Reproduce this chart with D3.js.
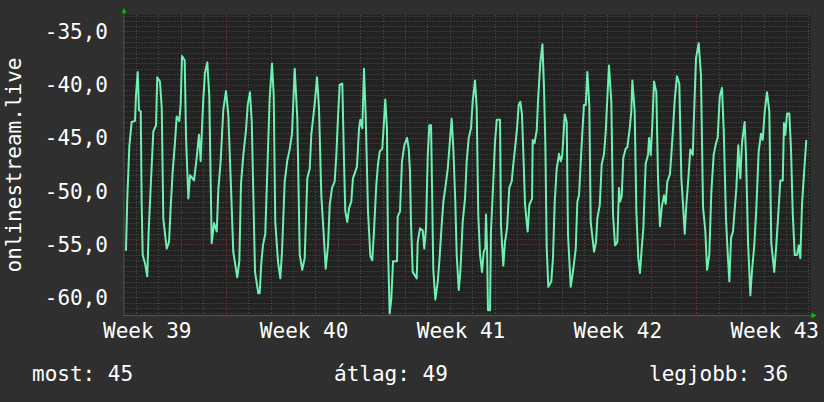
<!DOCTYPE html>
<html><head><meta charset="utf-8">
<script src="https://cdn.jsdelivr.net/npm/d3@7"></script>
<style>html,body{margin:0;padding:0;background:#2f2f2f;}svg{display:block;}</style>
</head><body>
<svg id="c" width="824" height="402"></svg>
<script>
// ---- data (hours since 2023-09-27 00:00, value) ----
const hours = [13.2,14.6,16.8,19.3,22.9,23.9,25.8,27.1,29.0,30.0,31.1,33.6,36.0,37.5,40.0,42.5,45.4,46.7,49.6,51.5,53.2,56.8,59.3,61.1,63.2,65.7,67.5,70.3,71.8,73.2,76.1,77.5,80.0,81.8,86.1,88.9,91.4,93.2,94.6,96.0,97.8,100.3,102.4,105.0,107.5,110.4,112.1,114.6,117.4,120.3,122.8,125.7,128.1,132.4,134.6,136.4,138.9,141.7,143.6,146.0,147.9,151.4,154.9,156.4,158.1,159.9,162.4,164.6,167.1,169.6,171.4,173.1,176.0,178.5,180.3,183.2,186.0,188.5,191.0,193.9,196.7,199.3,202.0,204.6,207.4,210.0,211.7,215.3,217.8,219.9,222.4,225.0,227.1,229.6,231.4,233.9,236.7,238.5,240.3,242.1,244.9,246.7,248.1,250.2,252.1,254.5,256.3,260.6,262.8,264.2,266.3,268.1,269.9,272.4,274.9,277.0,278.8,281.3,283.1,284.9,287.7,289.5,290.9,292.7,293.8,295.6,297.4,299.2,303.5,304.2,306.7,308.8,311.3,314.2,316.0,317.4,318.5,320.3,324.6,325.6,328.1,331.0,332.7,334.5,336.4,338.1,339.9,340.9,342.3,344.5,347.1,348.8,351.3,353.1,355.2,357.8,359.5,362.0,363.8,365.9,367.4,369.6,371.3,373.8,376.3,378.1,380.3,382.7,384.5,387.0,388.8,390.5,392.4,394.5,396.3,398.0,398.8,399.9,400.9,403.1,404.1,406.6,408.4,410.3,413.8,414.8,417.3,419.1,421.3,423.7,426.3,428.0,430.2,432.0,433.8,435.5,437.3,439.2,440.6,443.4,445.2,448.1,448.8,450.7,453.1,454.5,456.8,459.2,460.9,462.3,463.8,465.5,468.7,470.5,472.4,474.5,477.0,478.8,480.5,483.1,485.2,486.6,489.5,492.3,494.9,496.6,498.4,501.3,503.7,505.6,507.3,509.4,510.9,514.5,516.6,518.0,520.6,522.7,525.2,527.0,528.7,530.5,533.0,534.8,537.0,539.4,541.2,542.3,544.1,545.8,548.4,550.1,552.7,554.4,555.5,558.0,559.8,561.9,563.7,565.5,567.3,569.8,572.3,573.4,575.2,576.9,578.7,581.2,583.0,585.1,587.0,589.4,591.2,593.0,595.8,597.7,599.1,600.9,603.3,605.8,608.0,609.8,611.6,613.3,615.1,617.6,620.2,621.2,623.7,626.6,629.0,631.2,633.7,635.5,637.9,640.1,642.6,645.1,646.9,649.1,651.5,653.4,655.8,657.6,659.4,661.2,663.3,664.7,666.9,669.0,671.1,673.0,675.8,677.2,679.4,681.9,683.7,686.1,688.3,690.8,693.3,695.1,697.3,699.7,702.2,704.3,707.5,709.4,711.5,714.0,716.6,717.9,719.3,721.2,723.6,725.4,727.3,729.4,731.9,733.7,735.4,737.2,739.7,741.8];
const values = [-55.6,-50.7,-45.8,-43.5,-43.4,-41.0,-38.8,-42.4,-42.5,-51.1,-56.0,-56.8,-58.0,-53.8,-49.0,-44.4,-43.8,-39.3,-39.7,-42.2,-52.6,-55.4,-54.8,-51.5,-48.2,-45.4,-43.0,-43.4,-41.8,-37.3,-37.7,-44.9,-50.7,-48.5,-49.0,-46.9,-44.7,-47.2,-44.1,-41.4,-38.9,-37.9,-41.0,-54.9,-53.0,-53.8,-49.9,-47.2,-42.4,-40.6,-42.8,-49.7,-55.7,-58.1,-56.6,-49.3,-46.6,-44.3,-41.9,-40.7,-43.5,-57.6,-59.6,-59.6,-56.8,-55.1,-54.0,-48.0,-41.3,-38.0,-41.0,-52.9,-56.6,-58.2,-55.7,-49.1,-47.1,-46.1,-44.6,-38.5,-43.2,-56.0,-57.4,-56.3,-48.8,-47.9,-44.7,-41.8,-39.3,-42.2,-50.4,-54.1,-57.3,-55.1,-51.3,-49.7,-49.1,-46.6,-43.0,-40.0,-39.9,-47.2,-51.9,-52.9,-51.6,-51.0,-48.8,-47.7,-44.1,-43.3,-44.1,-38.5,-42.8,-51.9,-56.1,-56.5,-53.8,-49.4,-47.5,-46.3,-46.0,-43.5,-41.4,-44.1,-55.1,-61.5,-60.1,-56.6,-56.6,-52.4,-51.9,-47.2,-45.7,-45.0,-46.0,-48.2,-53.2,-57.6,-58.2,-54.8,-53.5,-53.7,-55.4,-53.5,-46.6,-43.8,-43.8,-49.1,-57.3,-60.2,-58.5,-56.6,-53.2,-51.0,-49.7,-47.9,-46.0,-43.2,-46.0,-51.0,-56.0,-59.3,-57.6,-52.9,-50.7,-47.2,-45.0,-44.1,-41.6,-39.6,-42.2,-52.2,-56.0,-57.6,-55.7,-55.4,-52.2,-55.4,-61.2,-61.2,-53.8,-49.1,-45.4,-43.3,-43.3,-53.2,-57.0,-54.8,-53.5,-49.7,-49.1,-47.5,-45.7,-44.1,-41.9,-41.6,-42.8,-47.5,-51.3,-53.8,-51.3,-50.7,-45.2,-45.5,-44.3,-41.5,-38.1,-36.2,-40.3,-45.4,-55.4,-59.0,-58.5,-56.3,-51.0,-47.9,-46.5,-47.2,-46.6,-42.8,-43.5,-54.1,-59.0,-57.3,-55.4,-51.0,-50.4,-45.5,-41.9,-41.9,-38.8,-41.9,-52.9,-55.7,-54.8,-52.6,-51.3,-47.5,-46.5,-44.4,-41.3,-38.2,-41.6,-52.2,-55.1,-54.8,-49.7,-51.0,-50.5,-46.9,-46.0,-45.9,-44.1,-42.5,-39.6,-42.5,-51.9,-56.3,-57.7,-55.4,-53.5,-47.4,-46.6,-45.0,-46.6,-43.8,-39.7,-40.7,-48.8,-53.3,-51.5,-50.4,-51.2,-49.1,-48.4,-46.0,-44.1,-41.4,-39.2,-39.9,-48.8,-51.3,-54.0,-51.3,-49.3,-46.1,-46.6,-43.8,-37.5,-36.1,-39.1,-51.5,-53.8,-57.4,-56.0,-50.1,-46.6,-45.5,-45.0,-41.1,-40.3,-44.4,-52.6,-55.8,-58.5,-54.4,-53.8,-52.2,-49.7,-45.7,-48.8,-45.4,-43.5,-46.5,-54.8,-59.8,-57.4,-55.1,-51.6,-46.3,-44.6,-45.2,-42.5,-40.7,-42.5,-54.9,-57.6,-55.4,-52.6,-49.0,-49.0,-43.6,-44.7,-42.7,-42.7,-46.0,-52.1,-56.0,-56.0,-55.1,-56.3,-51.3,-47.9,-45.2];
const yTicks = [-60,-55,-50,-45,-40,-35];
const yTickLabels = ["-60,0","-55,0","-50,0","-45,0","-40,0","-35,0"];
const weekLabels = ["Week 39","Week 40","Week 41","Week 42","Week 43"];
const weekCenters = [36,204,372,540,708];     // hours: middle of each week
const weekStarts = [120,288,456,624];          // hours: Monday 00:00
const dayLines = d3.range(24, 745, 24);        // hours: midnight
const yAxisTitle = "onlinestream.live";
const legendItems = ["most: 45","átlag: 49","legjobb: 36"];

// ---- layout ----
const L = 123.5, R = 810.5, T = 15, B = 315;
const font = "'DejaVu Sans Mono', monospace";
const svg = d3.select("#c");
svg.append("rect").attr("width",824).attr("height",402).attr("fill","#2f2f2f");
svg.append("rect").attr("x",L).attr("y",T).attr("width",R-L).attr("height",B-T).attr("fill","#222222");

const x = d3.scaleLinear().domain([10.55, 746.3]).range([L, R]);
const y = d3.scaleLinear().domain([-61.645, -33.45]).range([B, T]);

const grid = svg.append("g");
const minorY = d3.range(-61.5, -33.4, 0.5).filter(v => Math.abs(v % 5) > 1e-6);
grid.selectAll(".hm").data(minorY).join("line")
  .attr("x1",L).attr("x2",R).attr("y1",d=>Math.round(y(d))+0.5).attr("y2",d=>Math.round(y(d))+0.5)
  .attr("stroke","#505050").attr("stroke-width",1).attr("stroke-dasharray","1,2");
const minorX = dayLines.filter(h => !weekStarts.includes(h));
grid.selectAll(".vm").data(minorX).join("line")
  .attr("x1",d=>Math.round(x(d))+0.5).attr("x2",d=>Math.round(x(d))+0.5).attr("y1",T).attr("y2",B+2)
  .attr("stroke","#505050").attr("stroke-width",1).attr("stroke-dasharray","1,2");
grid.selectAll(".hM").data(yTicks).join("line")
  .attr("x1",L-2).attr("x2",R).attr("y1",d=>Math.round(y(d))+0.5).attr("y2",d=>Math.round(y(d))+0.5)
  .attr("stroke","#843838").attr("stroke-width",1).attr("stroke-dasharray","1,2");
grid.selectAll(".vM").data(weekStarts).join("line")
  .attr("x1",d=>Math.round(x(d))+0.5).attr("x2",d=>Math.round(x(d))+0.5).attr("y1",T).attr("y2",B+3)
  .attr("stroke","#843838").attr("stroke-width",1).attr("stroke-dasharray","1,2");

svg.append("line").attr("x1",L).attr("x2",R+2).attr("y1",B+0.5).attr("y2",B+0.5).attr("stroke","#555");
svg.append("line").attr("x1",L+0.5).attr("x2",L+0.5).attr("y1",T-4).attr("y2",B).attr("stroke","#555");
svg.append("path").attr("d",`M${L-2},${T-2} L${L+3},${T-2} L${L+0.5},${T-7} Z`).attr("fill","#00c000");
svg.append("path").attr("d",`M${R+1},${B-2.5} L${R+1},${B+3.5} L${R+6},${B+0.5} Z`).attr("fill","#00c000");

const pts = hours.map((h,i)=>[h, values[i]]);
svg.append("path").datum(pts)
  .attr("d", d3.line().x(d=>x(d[0])).y(d=>y(d[1])))
  .attr("fill","none").attr("stroke","#6df0b2").attr("stroke-width",2).attr("stroke-linejoin","round");

svg.selectAll(".yl").data(yTicks).join("text")
  .attr("x",108).attr("y",d=>y(d)).attr("dy","0.36em").attr("text-anchor","end")
  .attr("font-family",font).attr("font-size",21).attr("fill","#ffffff")
  .text((d,i)=>yTickLabels[i]);
svg.selectAll(".xl").data(weekCenters).join("text")
  .attr("x",d=>x(d)).attr("y",338).attr("text-anchor","middle")
  .attr("font-family",font).attr("font-size",21).attr("fill","#ffffff")
  .text((d,i)=>weekLabels[i]);
svg.append("text").attr("transform","translate(21,165) rotate(-90)").attr("text-anchor","middle")
  .attr("font-family",font).attr("font-size",21).attr("fill","#ffffff").text(yAxisTitle);
const legX = [32, 334, 649];
svg.selectAll(".lg").data(legendItems).join("text")
  .attr("x",(d,i)=>legX[i]).attr("y",381)
  .attr("font-family",font).attr("font-size",21).attr("fill","#ffffff").text(d=>d);
</script>
</body></html>
